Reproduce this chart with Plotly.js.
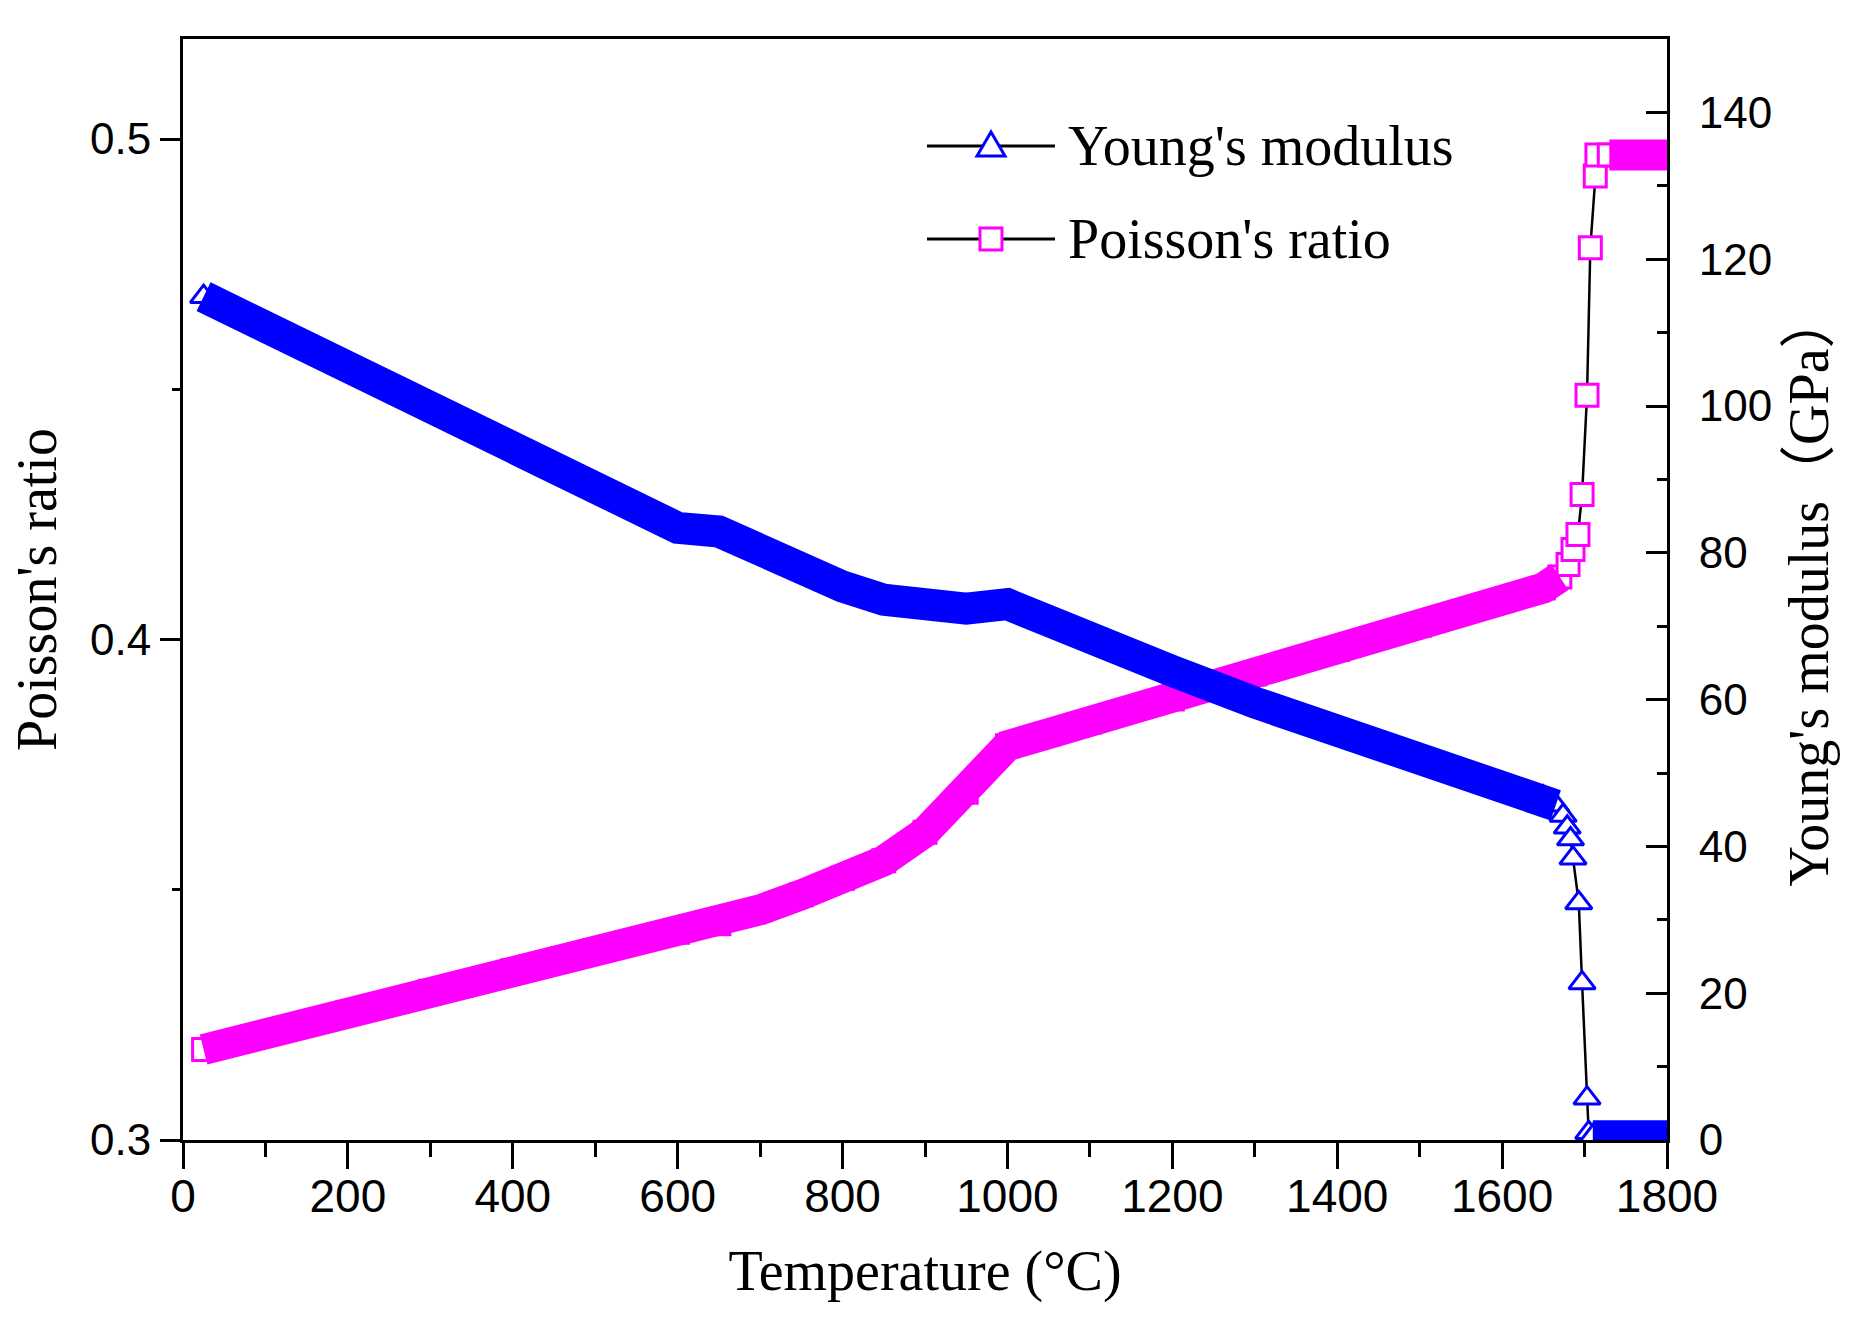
<!DOCTYPE html>
<html>
<head>
<meta charset="utf-8">
<script src="https://cdn.plot.ly/plotly-3.0.1.min.js"></script>
<style>
  html, body { margin: 0; padding: 0; background: #fff; }
  #plot { width: 1870px; height: 1328px; }
</style>
</head>
<body>
<div id="plot"></div>
<script>
// values
const temperatureE = [25, 100, 200, 300, 400, 500, 600, 650, 700, 750, 800, 850, 900, 950, 1000,
    1050, 1100, 1200, 1300, 1400, 1500, 1600, 1650, 1665, 1674, 1679, 1683, 1686, 1693, 1697, 1703,
    1705, 1710, 1750, 1800];
const youngsModulus = [114.9, 110.8, 105.3, 99.8, 94.3, 88.8, 83.4, 82.9, 80.3, 77.6, 75.4, 73.6,
    72.6, 72.4, 73.0, 71.0, 68.4, 63.9, 59.6, 55.9, 52.1, 48.5, 46.7, 45.6, 44.2, 42.6, 41.0, 38.4,
    32.3, 21.4, 5.7, 1.0, 0.5, 0.5, 0.5];

const temperatureP = [25, 100, 200, 300, 400, 500, 600, 650, 700, 750, 800, 850, 900, 950, 1000,
    1050, 1100, 1200, 1300, 1400, 1500, 1600, 1650, 1670, 1680, 1686, 1692, 1697, 1703, 1707, 1713,
    1715, 1730, 1750, 1800];
const poissonRatio = [0.3181, 0.3212, 0.3255, 0.3297, 0.3338, 0.3378, 0.3415, 0.3432, 0.3460,
    0.3490, 0.3523, 0.3558, 0.3615, 0.3695, 0.3788, 0.3812, 0.3835, 0.3881, 0.3931, 0.3980, 0.4029,
    0.4078, 0.4103, 0.4125, 0.4150, 0.4180, 0.4210, 0.4290, 0.4488, 0.4783, 0.4926, 0.4968, 0.4968,
    0.4968, 0.4968];

const seriesNames = ["Young's modulus", "Poisson's ratio"];
const xTickVals = [0, 200, 400, 600, 800, 1000, 1200, 1400, 1600, 1800];
const leftTickVals = [0.3, 0.4, 0.5];
const leftTickText = ['0.3', '0.4', '0.5'];
const rightTickVals = [0, 20, 40, 60, 80, 100, 120, 140];

const BLUE = '#0000ff';
const MAGENTA = '#ff00ff';
const SERIF = 'Liberation Serif, Times New Roman, Noto Sans CJK SC, serif';
const SANS = 'Liberation Sans, Arial, sans-serif';

// the dense part of each curve is a solid band of overlapping markers
function band(ts, vs, keep) {
    return vs.map((v, i) => keep(ts[i]) ? v : null);
}
const bandE = band(temperatureE, youngsModulus, t => t <= 1665 || t >= 1710);
const bandP = band(temperatureP, poissonRatio, t => t <= 1670 || t >= 1730);

let data = [
    {
        name: seriesNames[1],
        x: temperatureP, y: poissonRatio, yaxis: 'y',
        mode: 'lines+markers',
        line: {color: 'black', width: 2.5},
        marker: {symbol: 'square', size: 22, color: 'white', line: {color: MAGENTA, width: 3}},
        showlegend: false,
    },
    {
        x: temperatureP, y: bandP, yaxis: 'y',
        mode: 'lines', connectgaps: false,
        line: {color: MAGENTA, width: 31},
        showlegend: false, hoverinfo: 'skip',
    },
    {
        name: seriesNames[0],
        x: temperatureE, y: youngsModulus, yaxis: 'y2',
        mode: 'lines+markers',
        line: {color: 'black', width: 2.5},
        marker: {symbol: 'triangle-up', size: 23, color: 'white', line: {color: BLUE, width: 3}},
        showlegend: false,
    },
    {
        x: temperatureE, y: bandE, yaxis: 'y2',
        mode: 'lines', connectgaps: false,
        line: {color: BLUE, width: 32},
        showlegend: false, hoverinfo: 'skip',
    },
];

// plot area in pixels, used to place the hand-drawn legend
const M = {l: 183, r: 203, t: 39, b: 188};
const W = 1870 - M.l - M.r;
const H = 1328 - M.t - M.b;
const px = x => (x - M.l) / W;
const py = y => (1328 - M.b - y) / H;

function legendItem(y, symbolPath, color, label) {
    return {
        shapes: [
            {type: 'line', xref: 'paper', yref: 'paper', x0: px(927), x1: px(1055), y0: py(y), y1: py(y),
                line: {color: 'black', width: 3}},
            {type: 'path', xref: 'paper', yref: 'paper', fillcolor: 'white',
                line: {color: color, width: 3}, path: symbolPath},
        ],
        annotation: {
            xref: 'paper', yref: 'paper', x: px(1066), y: py(y), xanchor: 'left', yanchor: 'middle',
            text: label, showarrow: false, font: {family: SERIF, size: 56, color: 'black'},
        },
    };
}
const tri = 'M' + px(977) + ',' + py(156) + ' L' + px(1005) + ',' + py(156) + ' L' + px(991) + ',' + py(132) + ' Z';
const sq = 'M' + px(980) + ',' + py(228) + ' L' + px(1002) + ',' + py(228) + ' L' + px(1002) + ',' + py(250) +
    ' L' + px(980) + ',' + py(250) + ' Z';
const item1 = legendItem(146, tri, BLUE, seriesNames[0]);
const item2 = legendItem(239, sq, MAGENTA, seriesNames[1]);

let layout = {
    width: 1870,
    height: 1328,
    margin: M,
    paper_bgcolor: 'white',
    plot_bgcolor: 'white',
    showlegend: false,
    xaxis: {
        range: [0, 1800],
        tickvals: xTickVals,
        ticks: 'outside', ticklen: 26, tickwidth: 3, tickcolor: 'black',
        minor: {dtick: 100, ticks: 'outside', ticklen: 14, tickwidth: 3, tickcolor: 'black'},
        showline: true, linewidth: 3, linecolor: 'black', mirror: true,
        showgrid: false, zeroline: false,
        tickfont: {family: SANS, size: 46, color: 'black'},
        ticklabelstandoff: -12,
        title: {text: 'Temperature (°C)', font: {family: SERIF, size: 56, color: 'black'}, standoff: 30},
    },
    yaxis: {
        range: [0.3, 0.52],
        tickvals: leftTickVals, ticktext: leftTickText,
        ticks: 'outside', ticklen: 20, tickwidth: 3, tickcolor: 'black',
        minor: {dtick: 0.05, ticks: 'outside', ticklen: 8, tickwidth: 3, tickcolor: 'black'},
        showline: true, linewidth: 3, linecolor: 'black',
        showgrid: false, zeroline: false,
        tickfont: {family: SANS, size: 44, color: 'black'},
        title: {text: "Poisson's ratio", font: {family: SERIF, size: 56, color: 'black'}, standoff: 16},
    },
    yaxis2: {
        range: [0, 150],
        overlaying: 'y', side: 'right',
        tickvals: rightTickVals,
        ticks: 'inside', ticklen: 21, tickwidth: 3, tickcolor: 'black',
        minor: {dtick: 10, ticks: 'inside', ticklen: 10, tickwidth: 3, tickcolor: 'black'},
        showline: true, linewidth: 3, linecolor: 'black',
        showgrid: false, zeroline: false,
        tickfont: {family: SANS, size: 44, color: 'black'},
        ticklabelstandoff: 20,
        title: {text: "Young's modulus（GPa）", font: {family: SERIF, size: 56, color: 'black'}, standoff: 18},
    },
    shapes: item1.shapes.concat(item2.shapes),
    annotations: [item1.annotation, item2.annotation],
};

Plotly.newPlot('plot', data, layout, {displayModeBar: false, staticPlot: true});
</script>
</body>
</html>
